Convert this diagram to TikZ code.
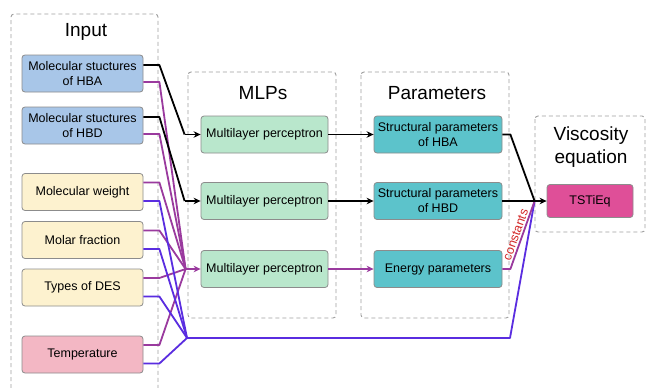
\documentclass[tikz,border=0pt]{standalone}
\usepackage{fontspec}
\setmainfont{Liberation Sans}
\usetikzlibrary{arrows.meta,calc}
\definecolor{cblue}{HTML}{A8C6E8}
\definecolor{cyel}{HTML}{FDF2CF}
\definecolor{cpink}{HTML}{F3B7C4}
\definecolor{cgreen}{HTML}{B9E7CC}
\definecolor{cteal}{HTML}{5CC3CB}
\definecolor{cmag}{HTML}{DF4F98}
\definecolor{cborder}{HTML}{8C8C8C}
\definecolor{cgrp}{HTML}{A0A0A0}
\definecolor{cprp}{HTML}{9A3A9E}
\definecolor{cblu}{HTML}{5A2DE0}
\definecolor{cred}{HTML}{D42A2A}
\begin{document}
\begin{tikzpicture}[x=1pt,y=-1pt,
  grp/.style={draw=cgrp, dash pattern=on 4pt off 3pt, line width=0.9pt, rounded corners=3pt},
  box/.style={draw=cborder, line width=0.8pt, rounded corners=3pt, minimum height=37pt,
    align=center, font=\fontsize{12.5}{15}\selectfont, inner sep=1pt},
  inbox/.style={box, minimum width=121pt},
  mlpbox/.style={box, minimum width=127pt, fill=cgreen},
  parbox/.style={box, minimum width=128pt, fill=cteal},
  ttl/.style={font=\fontsize{19}{23.5}\selectfont, align=center, inner sep=0pt},
  conn/.style={line width=1.8pt, line join=round},
  blk/.style={conn, black},
  prp/.style={conn, cprp},
  blu/.style={conn, cblu},
  arr/.style={-{Stealth[length=7pt,width=6.5pt]}}
]
\useasboundingbox (0,0) rectangle (648,388);
\fill[white] (0,0) rectangle (648,388);

% groups
\draw[grp] (11,395) -- (11,14) -- (158,14) -- (158,395);
\draw[grp] (188,72) rectangle (336,318);
\draw[grp] (361,72) rectangle (509,318);
\draw[grp] (535,116) rectangle (645,232);

% titles
\node[ttl] (tin) at (86,32) {Input};
\node[ttl] (tmlp) at (263,93) {MLPs};
\node[ttl] (tpar) at (437,93) {Parameters};
\node[ttl] (tvis) at (591,147) {Viscosity\\equation};

% input boxes
\node[inbox, fill=cblue] (hba) at (82.5,73.5) {Molecular stuctures\\of HBA};
\node[inbox, fill=cblue] (hbd) at (82.5,125.5) {Molecular stuctures\\of HBD};
\node[inbox, fill=cyel] (mw) at (82.5,192) {Molecular weight};
\node[inbox, fill=cyel] (mf) at (82.5,240) {Molar fraction};
\node[inbox, fill=cyel] (des) at (82.5,287.5) {Types of DES};
\node[inbox, fill=cpink] (temp) at (82.5,354.5) {Temperature};

% MLPs
\node[mlpbox] (m1) at (264.5,134.5) {Multilayer perceptron};
\node[mlpbox] (m2) at (264.5,201) {Multilayer perceptron};
\node[mlpbox] (m3) at (264.5,269) {Multilayer perceptron};

% parameters
\node[parbox] (p1) at (438,134.5) {Structural parameters\\of HBA};
\node[parbox] (p2) at (438,201) {Structural parameters\\of HBD};
\node[parbox] (p3) at (438,269) {Energy parameters};

% equation
\node[box, minimum width=86pt, minimum height=33pt, fill=cmag] (tsti) at (590,201) {TSTiEq};

% junctions
\coordinate (j1) at ([xshift=-16pt]m1.west);
\coordinate (j2) at ([xshift=-16pt]m2.west);
\coordinate (pj) at ([xshift=-15pt]m3.west);
\coordinate (bj) at (187,338);
\coordinate (bk) at (510,338);
\coordinate (V) at ([xshift=-12pt]tsti.west);

% purple lines to MLP 3
\foreach \n in {hba,hbd}{
  \draw[prp] ([yshift=-8.5pt]\n.east) -- ++(16,0) -- (pj);
}
\foreach \n in {mw,mf,des,temp}{
  \draw[prp] ([yshift=9.5pt]\n.east) -- ++(16,0) -- (pj);
}
% blue lines
\foreach \n in {mw,mf,des,temp}{
  \draw[blu] ([yshift=-9pt]\n.east) -- ++(16,0) -- (bj);
}
% black lines
\draw[blk] ([yshift=8.5pt]hba.east) -- ++(16,0) -- (j1);
\draw[blk,arr] (j1) -- (m1.west);
\draw[blk] ([yshift=8.5pt]hbd.east) -- ++(16,0) -- (j2);
\draw[blk,arr] (j2) -- (m2.west);
\draw[prp,arr] (pj) -- (m3.west);

% MLP -> parameters
\draw[blk,arr] (m1.east) -- (p1.west);
\draw[blk,arr] (m2.east) -- (p2.west);
\draw[prp,arr] (m3.east) -- (p3.west);

% to equation
\draw[blu] (bj) -- (bk) -- (V);
\draw[blk] (p1.east) -- ++(8,0) -- (V);
\draw[prp] (p3.east) -- ++(8,0) -- (V)
  node[pos=0.47, sloped, above, text=cred, inner sep=1.5pt, font=\fontsize{12.5}{14}\selectfont] {constants};
\draw[blk,arr] (p2.east) -- (tsti.west);
\end{tikzpicture}
\end{document}
